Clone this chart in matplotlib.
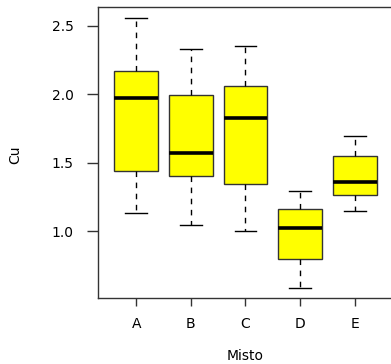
import matplotlib
matplotlib.use("Agg")
import matplotlib.pyplot as plt

# boxplot summary values
groups = ["A", "B", "C", "D", "E"]
whislo = [1.134, 1.046, 1.002, 0.586, 1.146]
q1 = [1.436, 1.404, 1.343, 0.795, 1.265]
med = [1.972, 1.567, 1.823, 1.024, 1.358]
q3 = [2.166, 1.993, 2.062, 1.158, 1.548]
whishi = [2.558, 2.332, 2.354, 1.292, 1.696]
yticks = [1.0, 1.5, 2.0, 2.5]

plt.rcParams["font.family"] = ["DejaVu Sans"]

fig = plt.figure(figsize=(3.91, 3.64), dpi=100)
ax = fig.add_axes([98 / 391, 1 - 298 / 364, 295 / 391, 291 / 364])

stats = []
for i, g in enumerate(groups):
    stats.append(dict(label=g, whislo=whislo[i], q1=q1[i], med=med[i],
                      q3=q3[i], whishi=whishi[i], fliers=[]))

ax.bxp(stats, positions=range(1, len(groups) + 1), widths=0.8,
       patch_artist=True, showfliers=False,
       boxprops=dict(facecolor="#ffff00", edgecolor="#333333", linewidth=1.0),
       medianprops=dict(color="black", linewidth=2.6, solid_capstyle="butt"),
       whiskerprops=dict(color="black", linewidth=1.0, linestyle=(0, (4, 4))),
       capprops=dict(color="black", linewidth=1.0),
       capwidths=0.4)

ax.set_xlim(0.3, 5.7)
ax.set_ylim(0.511, 2.636)
ax.set_yticks(yticks)
ax.set_yticklabels(["%.1f" % v for v in yticks])
ax.set_xticks(range(1, len(groups) + 1))
ax.set_xticklabels(groups)

for s in ax.spines.values():
    s.set_color("#333333")
    s.set_linewidth(1.0)
# the frame's right side falls just outside the picture
ax.spines["right"].set_visible(False)

ax.tick_params(axis="y", length=8, width=1.0, pad=9.5, labelsize=10,
               color="#333333")
ax.tick_params(axis="x", length=6, width=1.0, pad=8, labelsize=10,
               color="#333333")

fig.text(0.5 * (98 + 392) / 391, 1 - 356 / 364, "Misto", ha="center",
         va="center", fontsize=10)
fig.text(15 / 391, 1 - 155 / 364, "Cu", ha="center", va="center",
         rotation=90, fontsize=10)

fig.savefig("out.png", dpi=100)
